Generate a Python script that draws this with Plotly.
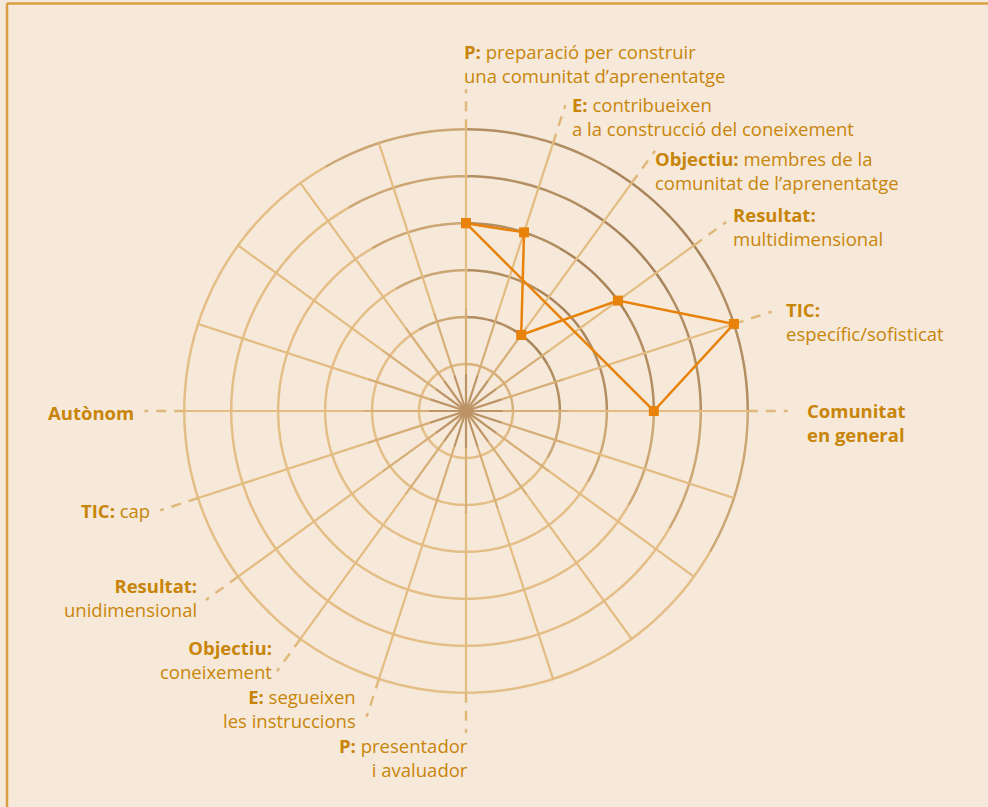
import numpy as np
import plotly.graph_objects as go

# data
axis_theta = [90, 72, 54, 36, 18, 0]
axis_names = ["P", "E", "Objectiu", "Resultat", "TIC", "Comunitat"]
scores = [4, 4, 2, 4, 6, 4]
rings = [1, 2, 3, 4, 5, 6]
spoke_theta = list(range(0, 360, 18))
label_theta = [90, 72, 54, 36, 18, 0, 180, 198, 216, 234, 252, 270]

# label blocks: text, x (px), centre y (px), anchor
labels = [
    ("<b>P:</b> preparació per construir<br>una comunitat d’aprenentatge", 462, 64, "left"),
    ("<b>E:</b> contribueixen<br>a la construcció del coneixement", 570, 116.5, "left"),
    ("<b>Objectiu:</b> membres de la<br>comunitat de l’aprenentatge", 653, 170.5, "left"),
    ("<b>Resultat:</b><br>multidimensional", 731, 227, "left"),
    ("<b>TIC:</b><br>específic/sofisticat", 784, 321, "left"),
    ("<b>Comunitat<br>en general</b>", 805, 422.5, "left"),
    ("<b>Autònom</b>", 136, 412, "right"),
    ("<b>TIC:</b> cap", 152, 510, "right"),
    ("<b>Resultat:</b><br>unidimensional", 199, 597, "right"),
    ("<b>Objectiu:</b><br>coneixement", 274, 659, "right"),
    ("<b>E:</b> segueixen<br>les instruccions", 358, 708.5, "right"),
    ("<b>P:</b> presentador<br>i avaluador", 470, 757.5, "right"),
]

W, H = 988, 807
BG = "#F6E9D9"
TXT = "#C8850A"
ORANGE = "#E8820A"


def px(x, y):
    return x / W, 1 - y / H


def mix(c1, c2, t):
    a = [int(c1[i:i + 2], 16) for i in (1, 3, 5)]
    b = [int(c2[i:i + 2], 16) for i in (1, 3, 5)]
    return "#%02x%02x%02x" % tuple(round(a[k] + (b[k] - a[k]) * t) for k in range(3))


fig = go.Figure()

# grid circles, darker towards the upper right
LIGHT, DARK = "#E4BE86", "#A9845A"
for ring in rings:
    f = 0.25 if ring == 1 else 1.0
    for k in range(12):
        th = np.arange(k * 30, k * 30 + 31, 2)
        w = max(0.0, np.cos(np.radians(k * 30 + 15 - 45))) ** 1.3 * f
        fig.add_trace(go.Scatterpolar(r=[ring] * len(th), theta=th, mode="lines",
                                      line=dict(color=mix(LIGHT, DARK, w), width=2.5),
                                      hoverinfo="skip", showlegend=False))

# spokes
for t in spoke_theta:
    for r0, r1, col in [(0, 0.8, "#BC9466"), (0.8, 2.2, "#D6AE76"), (2.2, 6, "#E3BC82")]:
        fig.add_trace(go.Scatterpolar(r=[r0, r1], theta=[t, t], mode="lines",
                                      line=dict(color=col, width=2.2),
                                      hoverinfo="skip", showlegend=False))

# dashed extensions to the labels
for t in label_theta:
    fig.add_trace(go.Scatterpolar(r=[6, 6.85], theta=[t, t], mode="lines",
                                  line=dict(color="#E0B87C", width=2.5, dash="10px,8px"),
                                  hoverinfo="skip", showlegend=False))

# data polygon
fig.add_trace(go.Scatterpolar(r=scores + scores[:1], theta=axis_theta + axis_theta[:1],
                              mode="lines+markers",
                              line=dict(color=ORANGE, width=2.5),
                              marker=dict(symbol="square", size=10, color=ORANGE),
                              text=axis_names + axis_names[:1],
                              showlegend=False))

R = 6.9
fig.update_layout(
    width=W, height=H,
    margin=dict(l=0, r=0, t=0, b=0),
    paper_bgcolor=BG, plot_bgcolor=BG,
    font=dict(family="Open Sans, Noto Sans, sans-serif", size=18.5, color=TXT),
    polar=dict(
        domain=dict(x=[(466 - 324) / W, (466 + 324) / W],
                    y=[1 - (411 + 324) / H, 1 - (411 - 324) / H]),
        bgcolor="rgba(0,0,0,0)",
        radialaxis=dict(visible=False, range=[0, R]),
        angularaxis=dict(visible=False, rotation=0, direction="counterclockwise"),
    ),
)

for text, x, y, al in labels:
    ax, ay = px(x, y)
    fig.add_annotation(text=text, x=ax, y=ay, xref="paper", yref="paper",
                       xanchor=al, yanchor="middle", align=al, showarrow=False,
                       font=dict(color=TXT, size=18.5))

# frame lines at the top and left
fig.add_shape(type="line", xref="paper", yref="paper", x0=7 / W, x1=1, y0=1 - 3.5 / H, y1=1 - 3.5 / H,
              line=dict(color="#D9A043", width=2.5))
fig.add_shape(type="line", xref="paper", yref="paper", x0=7 / W, x1=7 / W, y0=0, y1=1 - 3.5 / H,
              line=dict(color="#D9A043", width=2.5))

fig.write_html("out.html", config={"displayModeBar": False},
               post_script="document.body.style.margin='0';document.body.style.overflow='hidden';")
